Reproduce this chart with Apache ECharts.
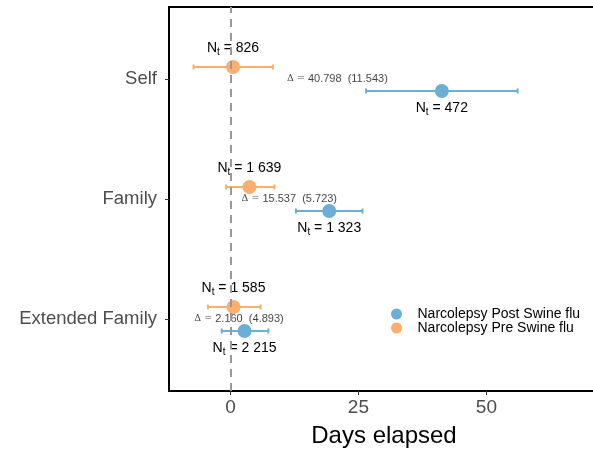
<!DOCTYPE html>
<html>
<head>
<meta charset="utf-8">
<script src="https://cdn.jsdelivr.net/npm/echarts@6/dist/echarts.min.js"></script>
<style>html,body{margin:0;padding:0;background:#fff}#c{width:593px;height:449px}</style>
</head>
<body>
<div id="c"></div>
<script>
// categories (y positions 1..3, bottom to top)
var categories = ['Extended Family', 'Family', 'Self'];
// Narcolepsy Pre Swine flu
var preMean = [0.6, 3.7, 0.5];
var preLow  = [-4.4, -0.85, -7.2];
var preHigh = [5.9, 8.6, 8.3];
var preN    = ['1 585', '1 639', '826'];
// Narcolepsy Post Swine flu
var postMean = [2.76, 19.3, 41.3];
var postLow  = [-1.7, 12.8, 26.5];
var postHigh = [7.4, 25.8, 56.1];
var postN    = ['2 215', '1 323', '472'];
// delta annotations
var deltaVal = ['2.160', '15.537', '40.798'];
var deltaSE  = ['4.893', '5.723', '11.543'];
var xTicks = [0, 25, 50];

var DODGE = 0.1;
var preColor = '#FDAE6B', postColor = '#6BAED6';
var FONT = 'Liberation Sans, Arial, sans-serif';

function pts(mean, off) { return mean.map(function (m, i) { return [m, i + 1 + off, i]; }); }
function bars(low, high, off) { return low.map(function (l, i) { return [l, high[i], i + 1 + off]; }); }

function errRender(color) {
  return function (params, api) {
    var a = api.coord([api.value(0), api.value(2)]);
    var b = api.coord([api.value(1), api.value(2)]);
    var h = 2.5;
    var st = { stroke: color, lineWidth: 2 };
    return { type: 'group', children: [
      { type: 'line', shape: { x1: a[0], y1: a[1], x2: b[0], y2: b[1] }, style: st },
      { type: 'line', shape: { x1: a[0], y1: a[1] - h, x2: a[0], y2: a[1] + h }, style: st },
      { type: 'line', shape: { x1: b[0], y1: b[1] - h, x2: b[0], y2: b[1] + h }, style: st }
    ]};
  };
}

var nRich = {
  n: { fontSize: 14, fontFamily: FONT, color: '#000' },
  s: { fontSize: 10, fontFamily: FONT, color: '#000', padding: [7, 0, 0, 0] }
};

var deltaData = preMean.map(function (m, i) { return [(m + postMean[i]) / 2, i + 1, i]; });

var chart = echarts.init(document.getElementById('c'), null, { renderer: 'canvas' });
chart.setOption({
  animation: false,
  backgroundColor: '#fff',
  grid: { left: 169, top: 7, width: 430, height: 384, show: true, borderColor: '#000', borderWidth: 2,
    backgroundColor: 'transparent', outerBoundsMode: 'none', containLabel: false },
  xAxis: {
    type: 'value', min: -12, max: 72,
    name: 'Days elapsed', nameLocation: 'middle', nameGap: 33,
    nameTextStyle: { fontSize: 24, color: '#000', fontFamily: FONT },
    splitLine: { show: false },
    axisLine: { show: true, onZero: false, lineStyle: { color: '#000', width: 2 } },
    axisTick: { show: true, length: 4, lineStyle: { color: '#333', width: 1 }, customValues: xTicks },
    axisLabel: { fontSize: 19, color: '#4d4d4d', fontFamily: FONT, margin: 7, customValues: xTicks }
  },
  yAxis: {
    type: 'value', min: 0.4, max: 3.6,
    splitLine: { show: false },
    axisLine: { show: true, onZero: false, lineStyle: { color: '#000', width: 2 } },
    axisTick: { show: true, length: 4, lineStyle: { color: '#333', width: 1 }, customValues: [1, 2, 3] },
    axisLabel: { fontSize: 18.5, color: '#4d4d4d', fontFamily: FONT, margin: 12, customValues: [1, 2, 3],
      formatter: function (v) { return categories[Math.round(v) - 1] || ''; } }
  },
  legend: {
    orient: 'vertical', left: 386, top: 302, itemGap: 0, itemWidth: 32, itemHeight: 11,
    data: ['Narcolepsy Post Swine flu', 'Narcolepsy Pre Swine flu'],
    textStyle: { fontSize: 14, color: '#000', fontFamily: FONT, lineHeight: 13.4 }
  },
  series: [
    { type: 'custom', name: 'preErr', data: bars(preLow, preHigh, DODGE), renderItem: errRender(preColor), z: 2,
      encode: { x: [0, 1], y: 2 }, silent: true,
      markLine: { silent: true, symbol: 'none', label: { show: false },
        lineStyle: { color: '#999', width: 2, type: [8, 6] }, data: [{ xAxis: 0 }] } },
    { type: 'custom', name: 'postErr', data: bars(postLow, postHigh, -DODGE), renderItem: errRender(postColor), z: 2,
      encode: { x: [0, 1], y: 2 }, silent: true },
    { type: 'scatter', name: 'Narcolepsy Pre Swine flu', data: pts(preMean, DODGE), symbolSize: 14, z: 3,
      itemStyle: { color: preColor, opacity: 1 },
      label: { show: true, position: 'top', distance: 3,
        formatter: function (p) { return '{n|N}{s|t}{n| = ' + preN[p.data[2]] + '}'; }, rich: nRich } },
    { type: 'scatter', name: 'Narcolepsy Post Swine flu', data: pts(postMean, -DODGE), symbolSize: 14, z: 3,
      itemStyle: { color: postColor, opacity: 1 },
      label: { show: true, position: 'bottom', distance: 2,
        formatter: function (p) { return '{n|N}{s|t}{n| = ' + postN[p.data[2]] + '}'; }, rich: nRich } },
    { type: 'scatter', name: 'delta', data: deltaData, symbolSize: 2, z: 4, silent: true,
      itemStyle: { color: 'rgba(0,0,0,0)' },
      label: { show: true, position: 'inside', color: '#111',
        formatter: function (p) { var i = p.data[2]; return '{d|\u0394 = }{v|' + deltaVal[i] + '  (' + deltaSE[i] + ')}'; },
        rich: { d: { fontSize: 9.5, fontFamily: 'DejaVu Serif, serif', color: '#111' },
                v: { fontSize: 11, fontFamily: FONT, color: '#111' } } } }
  ]
});
</script>
</body>
</html>
